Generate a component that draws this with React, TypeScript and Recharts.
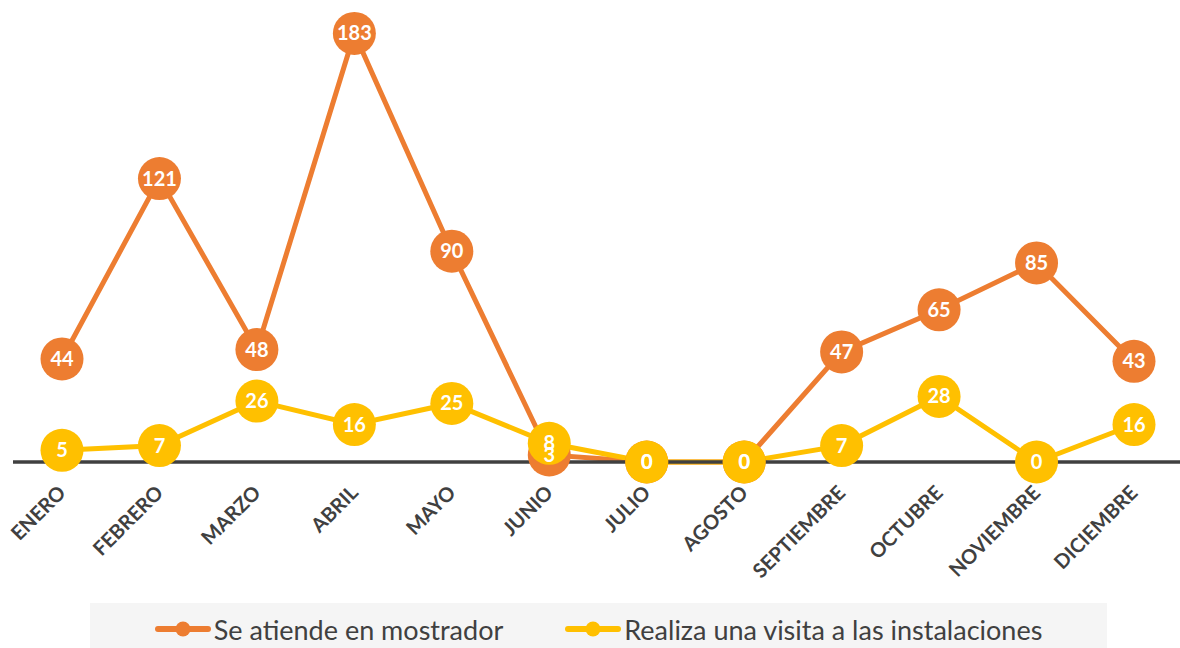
import React from "react";
import { LineChart, Line, XAxis, YAxis, LabelList } from "recharts";

const months = ["ENERO", "FEBRERO", "MARZO", "ABRIL", "MAYO", "JUNIO", "JULIO", "AGOSTO", "SEPTIEMBRE", "OCTUBRE", "NOVIEMBRE", "DICIEMBRE"];
const mostrador = [44, 121, 48, 183, 90, 3, 0, 0, 47, 65, 85, 43];
const visita = [5, 7, 26, 16, 25, 8, 0, 0, 7, 28, 0, 16];
const seriesNames = ["Se atiende en mostrador", "Realiza una visita a las instalaciones"];

const ORANGE = "#ED7D31";
const YELLOW = "#FFC000";
const GRAY = "#404040";

const data = months.map((m, i) => ({ month: m, mostrador: mostrador[i], visita: visita[i] }));

const Tick = (props: any) => {
  const { x, y, payload } = props;
  return (
    <g transform={`translate(${x + 5},${y + 24})`}>
      <text transform="rotate(-45)" textAnchor="end" fill={GRAY} fontFamily="Lato" fontWeight={700} fontSize={20}>
        {payload.value}
      </text>
    </g>
  );
};

const Label = (props: any) => {
  const { x, y, value } = props;
  return (
    <text x={x} y={y} dy={7} textAnchor="middle" fill="#FFFFFF" fontFamily="Lato" fontWeight={700} fontSize={20}>
      {value}
    </text>
  );
};

const LegendIcon = ({ color }: { color: string }) => (
  <svg width={56} height={20} style={{ display: "block", marginRight: 3 }}>
    <line x1={3} y1={10} x2={53} y2={10} stroke={color} strokeWidth={6} strokeLinecap="round" />
    <circle cx={28} cy={10} r={7.5} fill={color} />
  </svg>
);

const LegendBox = () => (
  <div
    style={{
      position: "absolute",
      left: 90,
      top: 603,
      width: 1017,
      height: 45,
      boxSizing: "border-box",
      paddingTop: 7,
      background: "#F5F5F5",
      display: "flex",
      alignItems: "center",
      justifyContent: "center",
      fontFamily: "Lato",
      fontSize: 27,
      color: GRAY,
      whiteSpace: "nowrap",
    }}
  >
    <div style={{ display: "flex", alignItems: "center", marginRight: 62 }}>
      <LegendIcon color={ORANGE} />
      <span>{seriesNames[0]}</span>
    </div>
    <div style={{ display: "flex", alignItems: "center" }}>
      <LegendIcon color={YELLOW} />
      <span>{seriesNames[1]}</span>
    </div>
  </div>
);

export default function App() {
  return (
    <div style={{ position: "absolute", left: 0, top: 0, width: 1180, height: 648, overflow: "hidden", background: "#fff" }}>
      <LineChart width={1183} height={648} data={data} margin={{ top: 17, right: 0, bottom: 126, left: 13 }}>
        <XAxis
          dataKey="month"
          axisLine={{ stroke: GRAY, strokeWidth: 3.5 }}
          tickLine={false}
          tick={<Tick />}
          interval={0}
          height={60}
          padding={{ left: 49, right: 49 }}
        />
        <YAxis hide domain={[0, 190]} />
        <Line
          dataKey="mostrador"
          name={seriesNames[0]}
          stroke={ORANGE}
          strokeWidth={5}
          dot={{ r: 21.5, fill: ORANGE, stroke: ORANGE, strokeWidth: 0 }}
          isAnimationActive={false}
        />
        <Line
          dataKey="visita"
          name={seriesNames[1]}
          stroke={YELLOW}
          strokeWidth={5}
          dot={{ r: 21.5, fill: YELLOW, stroke: YELLOW, strokeWidth: 0 }}
          isAnimationActive={false}
        />
        <Line dataKey="mostrador" stroke="none" dot={false} legendType="none" isAnimationActive={false}>
          <LabelList dataKey="mostrador" content={<Label />} />
        </Line>
        <Line dataKey="visita" stroke="none" dot={false} legendType="none" isAnimationActive={false}>
          <LabelList dataKey="visita" content={<Label />} />
        </Line>
      </LineChart>
      <LegendBox />
    </div>
  );
}
